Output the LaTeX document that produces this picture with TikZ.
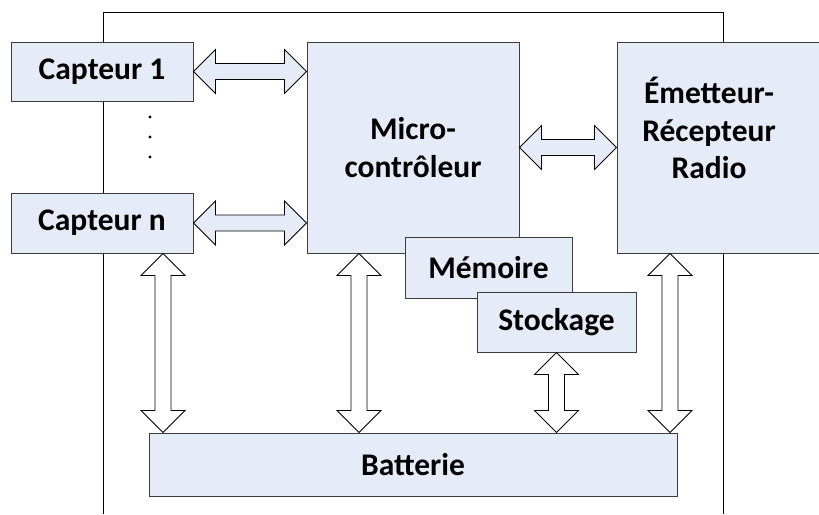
\documentclass[tikz,border=0pt]{standalone}
\usepackage{fontspec}
\setmainfont{Carlito}
\usetikzlibrary{calc}
\definecolor{boxfill}{RGB}{230,236,247}
\definecolor{boxline}{RGB}{60,60,60}
\newcommand\dblarrowH[3]{%
  \path[#3] let \p1=(#1), \p2=(#2) in
  (\x1,\y1) -- ++(22pt,22pt) -- ++(0pt,-14pt) -- (\x2-22pt,\y2+8pt) -- ++(0pt,14pt)
  -- (\x2,\y2) -- ++(-22pt,-22pt) -- ++(0pt,14pt) -- (\x1+22pt,\y1-8pt) -- ++(0pt,-14pt) -- cycle;}
\newcommand\dblarrowV[3]{%
  \path[#3] let \p1=(#1), \p2=(#2) in
  (\x1,\y1) -- ++(22pt,-22pt) -- ++(-14pt,0pt) -- (\x2+8pt,\y2+22pt) -- ++(14pt,0pt)
  -- (\x2,\y2) -- ++(-22pt,22pt) -- ++(14pt,0pt) -- (\x1-8pt,\y1-22pt) -- ++(-14pt,0pt) -- cycle;}
\begin{document}
\begin{tikzpicture}[x=1pt,y=-1pt,
  box/.style={draw=boxline, fill=boxfill, line width=1pt, rectangle, inner sep=0pt,
    font=\fontsize{31.5}{37.5}\selectfont\bfseries, align=center},
  label/.style={inner sep=0pt, font=\fontsize{31.5}{37.5}\selectfont\bfseries, align=center},
  frame/.style={draw=black, line width=1pt},
  harrow/.style={draw=black, fill=boxfill, line width=0.8pt, line join=miter},
  varrow/.style={draw=black, fill=white, line width=0.8pt, line join=miter}]
\useasboundingbox (0,0) rectangle (819,514);
\clip (0,0) rectangle (819,514);
% outer frame
\coordinate (fbl) at (103,514);
\coordinate (ftl) at (103,12);
\coordinate (ftr) at (723,12);
\coordinate (fbr) at (723,514);
\draw[frame] (fbl) -- (ftl) -- (ftr) -- (fbr);
% boxes
\node[box, minimum width=182pt, minimum height=59pt] (c1) at (102,71.5) {Capteur 1};
\node[box, minimum width=182pt, minimum height=60pt] (cn) at (102,223) {Capteur n};
\node[box, minimum width=212pt, minimum height=211pt] (mc) at (413,147.5) {Micro-\\contrôleur};
\node[box, minimum width=213pt, minimum height=211pt] (em) at (723.5,147.5) {};
\node[label] (emt) at (709,128) {Émetteur-\\Récepteur\\Radio};
\node[box, minimum width=167pt, minimum height=61pt] (mem) at (488.5,267.5) {Mémoire};
\node[box, minimum width=159pt, minimum height=60pt] (stk) at (556.5,322) {Stockage};
\node[box, minimum width=528pt, minimum height=63pt] (bat) at (413,464.5) {Batterie};
% dots
\foreach \yy/\nm in {117/d1,137/d2,157/d3}
  \fill (150,\yy) circle (1.6pt) coordinate (\nm);
% helper coordinates
\coordinate (v1) at (163,0);
\coordinate (v2) at (359,0);
\coordinate (v4) at (670,0);
% horizontal arrows
\dblarrowH{c1.east}{mc.west |- c1.east}{harrow}
\dblarrowH{cn.east}{mc.west |- cn.east}{harrow}
\dblarrowH{mc.east}{em.west |- mc.east}{harrow}
% vertical arrows
\dblarrowV{cn.south -| v1}{bat.north -| v1}{varrow}
\dblarrowV{mc.south -| v2}{bat.north -| v2}{varrow}
\dblarrowV{stk.south}{bat.north -| stk.south}{varrow}
\dblarrowV{em.south -| v4}{bat.north -| v4}{varrow}
\end{tikzpicture}
\end{document}
